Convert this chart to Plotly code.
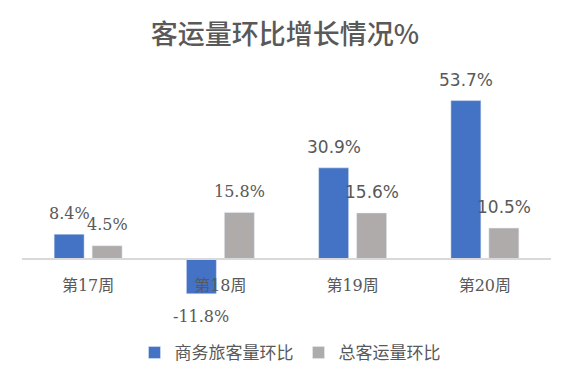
import plotly.graph_objects as go

categories = ["第17周", "第18周", "第19周", "第20周"]
business = [8.4, -11.8, 30.9, 53.7]
total = [4.5, 15.8, 15.6, 10.5]
series_names = ["商务旅客量环比", "总客运量环比"]
title_text = "客运量环比增长情况%"

BLUE = "#4472C4"
GRAY = "#AFABAB"
TXT = "#595959"
CJK = "Noto Sans CJK SC"
SERIF = "DejaVu Serif"
SANS = "DejaVu Sans"

fig = go.Figure()
fig.add_trace(go.Bar(x=categories, y=business, name=series_names[0], marker_color=BLUE))
fig.add_trace(go.Bar(x=categories, y=total, name=series_names[1], marker_color=GRAY))

# label font per category (reference mixes serif and sans digits)
label_fonts = [(SERIF, 16), (SERIF, 16), (SANS, 17), (SANS, 17)]

annotations = []
for i, c in enumerate(categories):
    for vals, shift in ((business, -19), (total, 19)):
        v = vals[i]
        fam, sz = label_fonts[i]
        annotations.append(dict(
            x=c, y=v, xref="x", yref="y", text=f"{v}%", showarrow=False,
            xshift=shift, yshift=21 if v >= 0 else -23,
            font=dict(family=fam, size=sz, color=TXT),
        ))

# the page body adds an 8px offset; layout coordinates compensate for it
fig.update_layout(
    width=572, height=384,
    margin=dict(l=14, r=29, t=74, b=74, autoexpand=False),
    paper_bgcolor="white", plot_bgcolor="white",
    title=dict(text=title_text, x=277 / 572, xanchor="center", xref="container",
               y=1 - 27 / 384, yanchor="middle", yref="container",
               font=dict(family=CJK, size=27, color=TXT, weight=500)),
    barmode="group", bargap=0.4255, bargroupgap=0.2105,
    showlegend=True,
    legend=dict(orientation="h", x=282 / 572, xanchor="center", xref="container",
                y=1 - 345 / 384, yanchor="middle", yref="container",
                font=dict(family=CJK, size=17, color=TXT), itemwidth=30,
                traceorder="normal"),
    annotations=annotations,
    xaxis=dict(anchor="free", position=0.25, showline=True, linecolor="#D9D9D9", linewidth=1.5,
               ticks="outside", ticklen=12, tickcolor="rgba(0,0,0,0)",
               tickfont=dict(family=SERIF + ", " + CJK, size=16, color=TXT),
               showgrid=False, zeroline=False),
    yaxis=dict(range=[-20, 60], visible=False, showgrid=False, zeroline=False),
)

fig.write_html("out.html")
